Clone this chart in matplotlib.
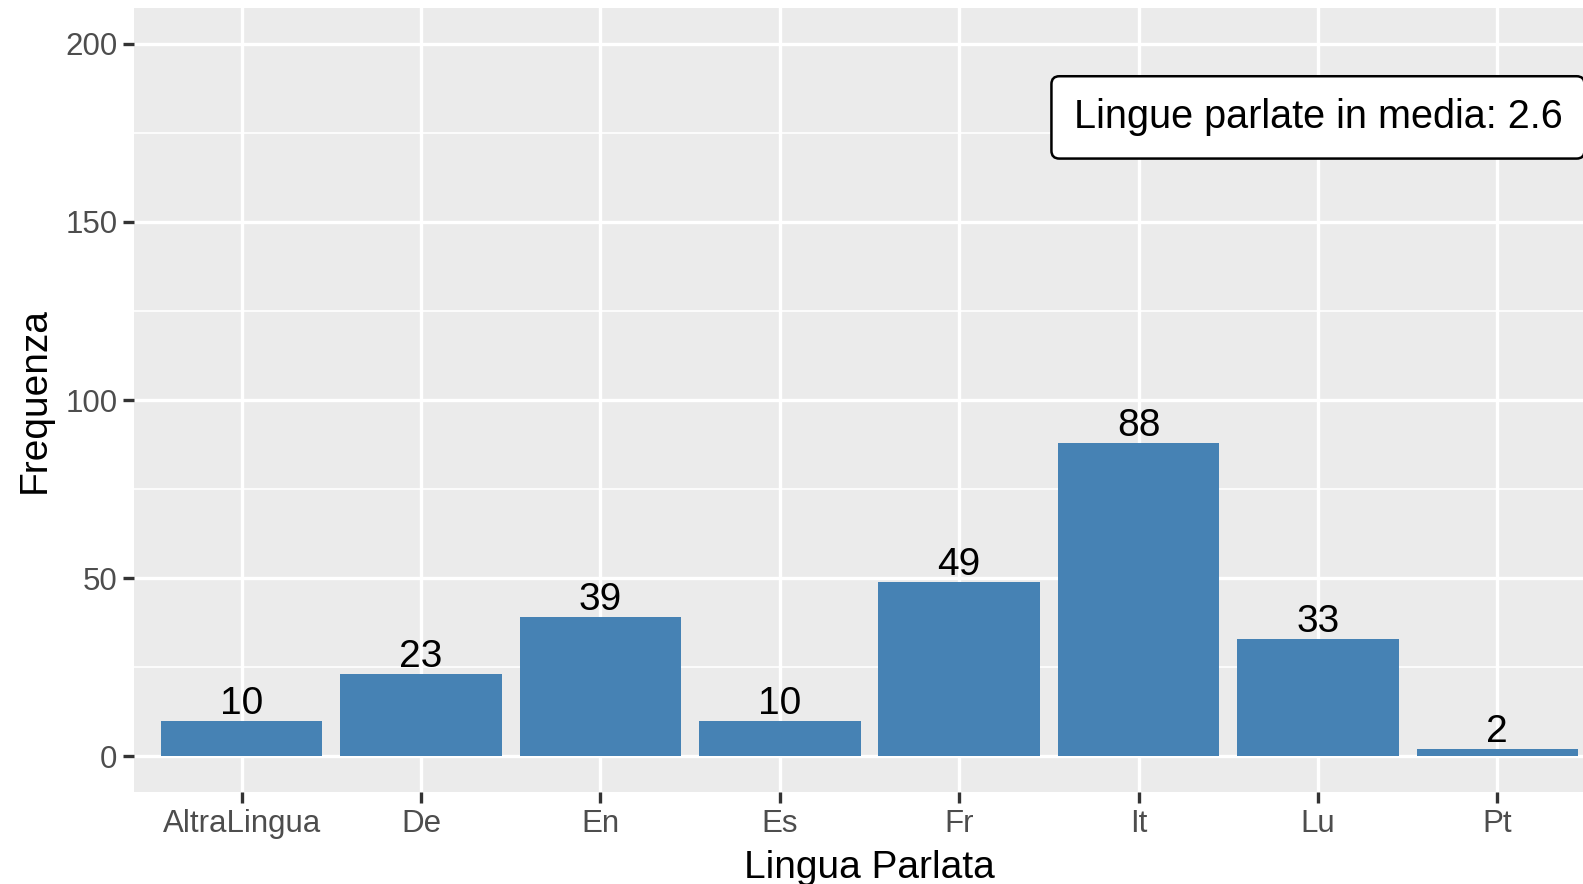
import numpy as np
import matplotlib.pyplot as plt

plt.rcParams["font.family"] = ["Liberation Sans", "DejaVu Sans"]

lingue = ["AltraLingua", "De", "En", "Es", "Fr", "It", "Lu", "Pt"]
frequenze = [10, 23, 39, 10, 49, 88, 33, 2]
media_lingue = 2.6
y_ticks = [0, 50, 100, 150, 200]

fig = plt.figure(figsize=(15.83, 8.84), dpi=100)
# panel runs past the right edge, as in the reference
ax = fig.add_axes([134 / 1583, 1 - 792 / 884, 1471 / 1583, 784 / 884])
ax.set_facecolor("#EBEBEB")
for s in ax.spines.values():
    s.set_visible(False)

x = np.arange(len(lingue))
ax.bar(x, frequenze, width=0.9, color="#4682B4", zorder=3)
for xi, v in zip(x, frequenze):
    ax.text(xi, v - 0.3, str(v), ha="center", va="bottom", fontsize=28, color="black", zorder=4)

ax.set_xlim(-0.6, len(lingue) - 0.4)
ax.set_ylim(-10, 210)
ax.set_xticks(x)
ax.set_xticklabels(lingue)
ax.set_yticks(y_ticks)
ax.set_yticks([25, 75, 125, 175], minor=True)
ax.grid(which="major", color="white", lw=2.4, zorder=1)
ax.grid(which="minor", axis="y", color="white", lw=1.2, zorder=1)
ax.tick_params(which="major", length=8, width=2.4, color="#333333",
               labelsize=22.5, labelcolor="#4D4D4D", pad=4)
ax.tick_params(which="minor", length=0)

ax.set_xlabel("Lingua Parlata", fontsize=28, labelpad=8)
ax.set_ylabel("Frequenza", fontsize=28, labelpad=9)

ax.text(6, 179.3, "Lingue parlate in media: %.1f" % media_lingue, ha="center", va="center",
        fontsize=28.5, zorder=5,
        bbox=dict(boxstyle="round,pad=0.56,rounding_size=0.2", fc="white", ec="black", lw=1.8))

fig.savefig("out.png", dpi=100)
plt.close()
